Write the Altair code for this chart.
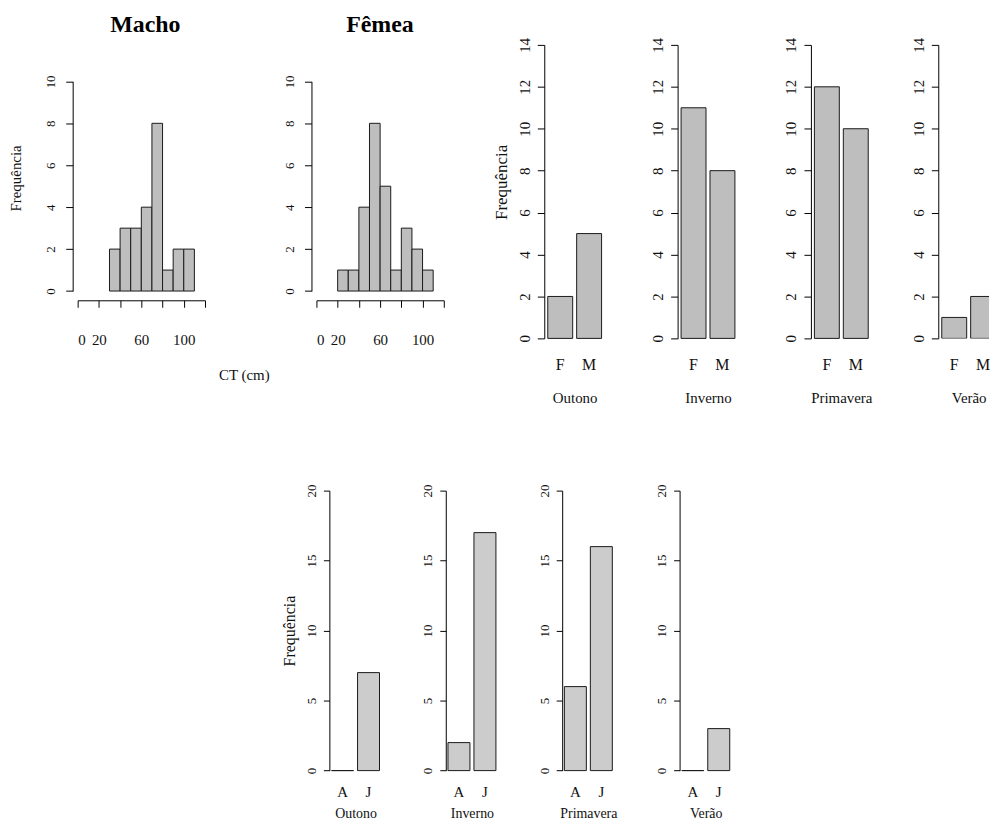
import altair as alt
import pandas as pd

FONT = "Liberation Serif"

# ---------------- data ----------------
# Histograms of CT (cm), 10 cm classes
macho_bin_start = [30, 40, 50, 60, 70, 80, 90, 100]
macho_freq = [2, 3, 3, 4, 8, 1, 2, 2]
femea_bin_start = [20, 30, 40, 50, 60, 70, 80, 90, 100]
femea_freq = [1, 1, 4, 8, 5, 1, 3, 2, 1]
BIN_WIDTH = 10
hist_ticks = [0, 20, 40, 60, 80, 100, 120]
hist_labels_shown = [0, 20, 60, 100]
hist_yticks = [0, 2, 4, 6, 8, 10]

# Seasonal frequencies by sex
seasons = ["Outono", "Inverno", "Primavera", "Verão"]
sexo = ["F", "M"]
freq_F = [2, 11, 12, 1]
freq_M = [5, 8, 10, 2]
sex_yticks = [0, 2, 4, 6, 8, 10, 12, 14]

# Seasonal frequencies by age class
idade = ["A", "J"]
freq_A = [0, 2, 6, 0]
freq_J = [7, 17, 16, 3]
age_yticks = [0, 5, 10, 15, 20]

# ---------------- styles ----------------
TOP_H = 295
BOT_H = 281.4
FILL_TOP = "#bebebe"
FILL_BOT = "#cccccc"
STROKE = "#1a1a1a"


def histogram(title, starts, freqs, width, title_dx, ytitle, xtitle):
    df = pd.DataFrame({"inicio": starts, "freq": freqs})
    df["fim"] = df["inicio"] + BIN_WIDTH
    shown = ",".join(str(v) for v in hist_labels_shown)
    x_axis = dict(
        values=hist_ticks,
        labelExpr=f"indexof([{shown}], datum.value) >= 0 ? datum.label : ''",
        offset=-38.3, tickSize=7, labelFontSize=15, labelPadding=37,
        labelBaseline="alphabetic", labelAngle=0, grid=False,
    )
    if xtitle:
        x_axis.update(title=xtitle, titleX=172, titleY=80, titleAlign="center",
                      titleBaseline="alphabetic", titleFontSize=15,
                      titleFontWeight="normal")
    else:
        x_axis.update(title=None)
    y_axis = dict(
        values=hist_yticks, labelAngle=-90, labelAlign="center",
        labelBaseline="alphabetic", labelFontSize=13, labelPadding=11,
        tickSize=7, grid=False,
    )
    if ytitle:
        y_axis.update(title=ytitle, titleX=-52.8, titleY=133.7, titleAngle=-90,
                      titleAlign="center", titleBaseline="alphabetic",
                      titleFontSize=15, titleFontWeight="normal")
    else:
        y_axis.update(title=None)
    return alt.Chart(df).mark_rect(
        fill=FILL_TOP, stroke=STROKE, strokeWidth=1
    ).encode(
        x=alt.X("inicio:Q", scale=alt.Scale(domain=[0, 120], range=[5, 133], nice=False, zero=False),
                axis=alt.Axis(**x_axis)),
        x2="fim:Q",
        y=alt.Y("freq:Q", scale=alt.Scale(domain=[0, 10], range=[247.4, 36.7], nice=False),
                axis=alt.Axis(**y_axis)),
        y2=alt.datum(0),
    ).properties(
        width=width, height=TOP_H,
        title=alt.TitleParams(text=title, font=FONT, fontSize=24, fontWeight="bold",
                              anchor="middle", frame="group", dx=title_dx, dy=21,
                              offset=10, baseline="alphabetic", color="black"),
    )


def bar_panel(season, cats, counts, width, height, xrange, pinner, ymax, yticks,
              fill, lab_size, lab_pad, tit_size, tit_y, ylab_size, ylab_pad, tick,
              ytitle=None, clip=False):
    df = pd.DataFrame({"cat": cats, "n": counts})
    y_axis = dict(values=yticks, labelAngle=-90, labelAlign="center",
                  labelBaseline="alphabetic", labelFontSize=ylab_size,
                  labelPadding=ylab_pad, tickSize=tick, grid=False)
    if ytitle:
        y_axis.update(title="Frequência", titleX=ytitle[0], titleY=ytitle[1],
                      titleAngle=-90, titleAlign="center", titleBaseline="alphabetic",
                      titleFontSize=ytitle[2], titleFontWeight="normal")
    else:
        y_axis.update(title=None)
    return alt.Chart(df).mark_bar(
        fill=fill, stroke=STROKE, strokeWidth=1, clip=clip
    ).encode(
        x=alt.X("cat:N", sort=cats,
                scale=alt.Scale(range=xrange, paddingInner=pinner, paddingOuter=0),
                axis=alt.Axis(labelAngle=0, domain=False, ticks=False, tickSize=0,
                              labelFontSize=lab_size, labelPadding=lab_pad,
                              labelBaseline="alphabetic", title=season,
                              titleFontSize=tit_size, titleFontWeight="normal",
                              titleX=(xrange[0] + xrange[1]) / 2, titleY=tit_y,
                              titleAlign="center", titleBaseline="alphabetic")),
        y=alt.Y("n:Q", scale=alt.Scale(domain=[0, ymax], nice=False),
                axis=alt.Axis(**y_axis)),
    ).properties(width=width, height=height)


# ---------------- panels ----------------
top_widths = [133.3, 133.3, 127.4, 51]
bot_widths = [116.7, 116.6, 117.4, 52]

top_panels = [
    histogram("Macho", macho_bin_start, macho_freq, 240, -47, "Frequência", "CT (cm)"),
    histogram("Fêmea", femea_bin_start, femea_freq, 233.7, -48, None, None),
]
for i, s in enumerate(seasons):
    top_panels.append(bar_panel(
        s, sexo, [freq_F[i], freq_M[i]], top_widths[i], TOP_H, [3.5, 57.6], 0.138,
        14, sex_yticks, FILL_TOP, 16, 31.7, 15, 64.4, 15, 8, 7,
        ytitle=(-38, 137.7, 17) if i == 0 else None, clip=(i == 3)))

spacer = alt.Chart(pd.DataFrame({"v": [0]})).mark_point(opacity=0).properties(
    width=257.7, height=10)
bottom_panels = [spacer]
for i, s in enumerate(seasons):
    bottom_panels.append(bar_panel(
        s, idade, [freq_A[i], freq_J[i]], bot_widths[i], BOT_H, [2.2, 50.4], 0.154,
        20, age_yticks, FILL_BOT, 15, 26, 14, 47, 13, 8, 6,
        ytitle=(-35, 140.7, 16) if i == 0 else None))

top_row = alt.hconcat(*top_panels, spacing=0, bounds="flush")
bottom_row = alt.hconcat(*bottom_panels, spacing=0, bounds="flush")

chart = alt.vconcat(top_row, bottom_row, spacing=78).properties(
    padding={"left": 0, "top": 3, "right": 0, "bottom": 0}
).configure_axis(
    labelFont=FONT, titleFont=FONT, domainColor="black", tickColor="black",
    labelColor="#111111", titleColor="#111111", grid=False,
    domainWidth=1, tickWidth=1,
).configure_view(strokeWidth=0).configure_title(font=FONT)

chart.save("out.html", embed_options={"renderer": "svg", "actions": False})
